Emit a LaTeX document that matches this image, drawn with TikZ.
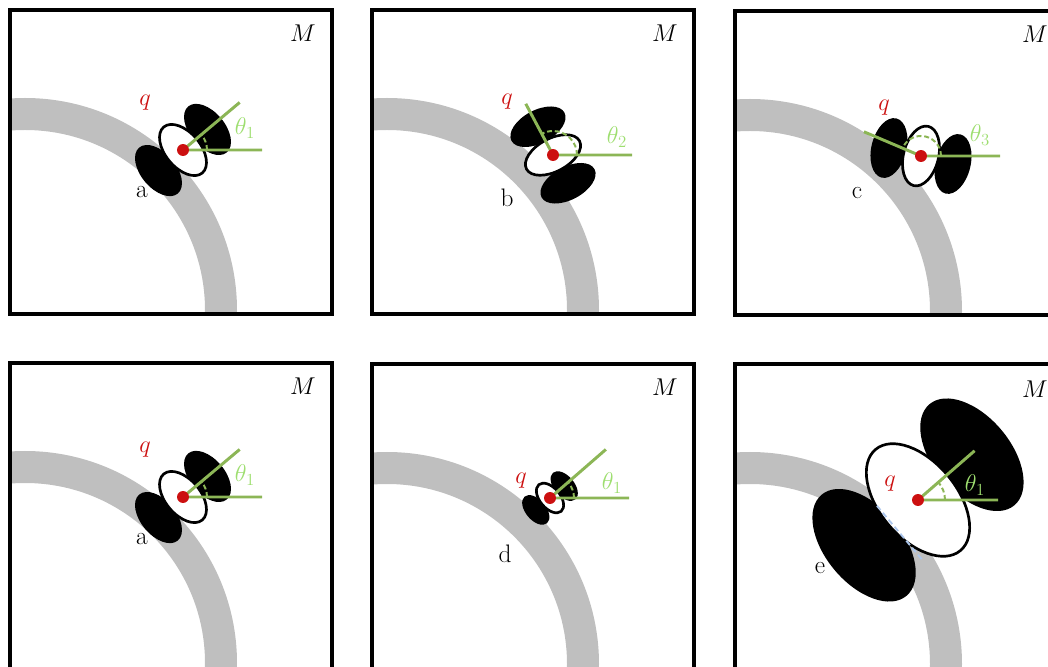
\documentclass[tikz,border=0pt]{standalone}
\usepackage{xcolor}
\usepackage{tikz}
\usetikzlibrary{calc}
\definecolor{bandgray}{RGB}{191,191,191}
\definecolor{qred}{RGB}{204,16,16}
\definecolor{armgreen}{RGB}{140,182,86}
\definecolor{lblgreen}{RGB}{158,222,112}
\definecolor{chordblue}{RGB}{172,198,236}
\tikzset{
  panelframe/.style={draw=black, line width=2.3pt},
  band/.style={fill=bandgray, even odd rule},
  lobe/.style={fill=black},
  core/.style={draw=black, fill=white, line width=1.9pt},
  arm/.style={draw=armgreen, line width=2.1pt},
  anglearc/.style={draw=armgreen, line width=1.4pt, dash pattern=on 3.5pt off 2pt},
  chord/.style={draw=chordblue, line width=1.3pt, dash pattern=on 4pt off 2.5pt},
  pointq/.style={circle, fill=qred, inner sep=0pt, minimum size=8.5pt},
  qlabel/.style={text=qred, font=\fontsize{18}{21}\selectfont},
  thlabel/.style={text=lblgreen, font=\fontsize{18}{21}\selectfont},
  tag/.style={font=\fontsize{18}{21}\selectfont},
  mlabel/.style={font=\fontsize{18}{21}\selectfont}
}

\begin{document}
\begin{tikzpicture}[x=0.025cm, y=0.025cm]
  \useasboundingbox (0,0) rectangle (1048,666);

  % Panel a (top left)
  \begin{scope}[shift={(10,656)}]
    \begin{scope}
      \clip (0,0) rectangle (322,-304);
      \fill[band] (15,-300) circle (212) (15,-300) circle (180);
    \end{scope}
    \coordinate (qa) at (173,-140);
    \begin{scope}[shift={(qa)}, rotate=40]
      \fill[lobe] (32,0) ellipse (17.5 and 30);
      \fill[lobe] (-32,0) ellipse (17.5 and 30);
      \draw[core] (0,0) ellipse (17.5 and 30);
    \end{scope}
    \path (qa) ++(40:74) coordinate (ta);
    \path (qa) ++(0:79) coordinate (ha);
    \draw[anglearc] (qa) ++(24,0) arc[start angle=0, end angle=40, radius=24];
    \draw[arm] (ha) -- (qa) -- (ta);
    \node[pointq] (dota) at (qa) {};
    \node[qlabel] (lqa) at ($(qa)+(-38,47)$) {$q$};
    \node[tag] (laba) at ($(qa)+(-41,-42)$) {a};
    \node[thlabel] (lta) at ($(qa)+(62,22)$) {$\theta_1$};
    \draw[panelframe] (0,0) rectangle (322,-304);
    \node[mlabel] (ma) at (293,-23) {$M$};
  \end{scope}

  % Panel b (top middle)
  \begin{scope}[shift={(372,656)}]
    \begin{scope}
      \clip (0,0) rectangle (322,-304);
      \fill[band] (15,-300) circle (212) (15,-300) circle (180);
    \end{scope}
    \coordinate (qb) at (181,-145);
    \begin{scope}[shift={(qb)}, rotate=118]
      \fill[lobe] (32,0) ellipse (16.5 and 30);
      \fill[lobe] (-32,0) ellipse (16.5 and 30);
      \draw[core] (0,0) ellipse (16.5 and 30);
    \end{scope}
    \path (qb) ++(118:58) coordinate (tb);
    \path (qb) ++(0:79) coordinate (hb);
    \draw[anglearc] (qb) ++(24,0) arc[start angle=0, end angle=118, radius=24];
    \draw[arm] (hb) -- (qb) -- (tb);
    \node[pointq] (dotb) at (qb) {};
    \node[qlabel] (lqb) at ($(qb)+(-46,53)$) {$q$};
    \node[tag] (labb) at ($(qb)+(-46,-43)$) {b};
    \node[thlabel] (ltb) at ($(qb)+(64,18)$) {$\theta_2$};
    \draw[panelframe] (0,0) rectangle (322,-304);
    \node[mlabel] (mb) at (293,-23) {$M$};
  \end{scope}

  % Panel c (top right)
  \begin{scope}[shift={(735,655)}]
    \begin{scope}
      \clip (0,0) rectangle (322,-304);
      \fill[band] (15,-300) circle (212) (15,-300) circle (180);
    \end{scope}
    \coordinate (qc) at (186,-145);
    \begin{scope}[shift={(qc)}, rotate=166]
      \fill[lobe] (33,0) ellipse (17.5 and 30.5);
      \fill[lobe] (-33,0) ellipse (17.5 and 30.5);
      \draw[core] (0,0) ellipse (17.5 and 30.5);
    \end{scope}
    \path (qc) ++(157:62) coordinate (tc);
    \path (qc) ++(0:79) coordinate (hc);
    \draw[anglearc] (qc) ++(20,0) arc[start angle=0, end angle=157, radius=20];
    \draw[arm] (hc) -- (qc) -- (tc);
    \node[pointq] (dotc) at (qc) {};
    \node[qlabel] (lqc) at ($(qc)+(-37,48)$) {$q$};
    \node[tag] (labc) at ($(qc)+(-64,-37)$) {c};
    \node[thlabel] (ltc) at ($(qc)+(59,21)$) {$\theta_3$};
    \draw[panelframe] (0,0) rectangle (322,-304);
    \node[mlabel] (mc) at (300,-23) {$M$};
  \end{scope}

  % Panel a again (bottom left)
  \begin{scope}[shift={(10,303)}]
    \begin{scope}
      \clip (0,0) rectangle (322,-312);
      \fill[band] (15,-300) circle (212) (15,-300) circle (180);
    \end{scope}
    \coordinate (qa2) at (173,-134);
    \begin{scope}[shift={(qa2)}, rotate=40]
      \fill[lobe] (32,0) ellipse (17.5 and 30);
      \fill[lobe] (-32,0) ellipse (17.5 and 30);
      \draw[core] (0,0) ellipse (17.5 and 30);
    \end{scope}
    \path (qa2) ++(40:74) coordinate (ta2);
    \path (qa2) ++(0:79) coordinate (ha2);
    \draw[anglearc] (qa2) ++(24,0) arc[start angle=0, end angle=40, radius=24];
    \draw[arm] (ha2) -- (qa2) -- (ta2);
    \node[pointq] (dota2) at (qa2) {};
    \node[qlabel] (lqa2) at ($(qa2)+(-38,47)$) {$q$};
    \node[tag] (laba2) at ($(qa2)+(-41,-42)$) {a};
    \node[thlabel] (lta2) at ($(qa2)+(62,22)$) {$\theta_1$};
    \draw[panelframe] (0,0) rectangle (322,-312);
    \node[mlabel] (ma2) at (293,-23) {$M$};
  \end{scope}

  % Panel d (bottom middle, small)
  \begin{scope}[shift={(372,302)}]
    \begin{scope}
      \clip (0,0) rectangle (322,-312);
      \fill[band] (15,-300) circle (212) (15,-300) circle (180);
    \end{scope}
    \coordinate (qd) at (178,-134);
    \begin{scope}[shift={(qd)}, rotate=40, scale=0.58]
      \fill[lobe] (32,0) ellipse (17.5 and 30);
      \fill[lobe] (-32,0) ellipse (17.5 and 30);
      \draw[core] (0,0) ellipse (17.5 and 30);
    \end{scope}
    \path (qd) ++(41:74) coordinate (td);
    \path (qd) ++(0:79) coordinate (hd);
    \draw[anglearc] (qd) ++(24,0) arc[start angle=0, end angle=41, radius=24];
    \draw[arm] (hd) -- (qd) -- (td);
    \node[pointq] (dotd) at (qd) {};
    \node[qlabel] (lqd) at ($(qd)+(-29,17)$) {$q$};
    \node[tag] (labd) at ($(qd)+(-45,-56)$) {d};
    \node[thlabel] (ltd) at ($(qd)+(62,15)$) {$\theta_1$};
    \draw[panelframe] (0,0) rectangle (322,-312);
    \node[mlabel] (md) at (293,-23) {$M$};
  \end{scope}

  % Panel e (bottom right, large)
  \begin{scope}[shift={(735,302)}]
    \begin{scope}
      \clip (0,0) rectangle (322,-312);
      \fill[band] (15,-300) circle (212) (15,-300) circle (180);
    \end{scope}
    \coordinate (qe) at (183,-136);
    \begin{scope}[shift={(qe)}, rotate=40, scale=2.2]
      \fill[lobe] (32,0) ellipse (17.5 and 30);
      \fill[lobe] (-32,0) ellipse (17.5 and 30);
      \draw[core] (0,0) ellipse (17.5 and 30);
      \draw[chord] (-16,10) -- (-16,-22);
    \end{scope}
    \path (qe) ++(41:75) coordinate (te);
    \path (qe) ++(0:80) coordinate (he);
    \draw[anglearc] (qe) ++(27,0) arc[start angle=0, end angle=41, radius=27];
    \draw[arm] (he) -- (qe) -- (te);
    \node[pointq] (dote) at (qe) {};
    \node[qlabel] (lqe) at ($(qe)+(-28,16)$) {$q$};
    \node[tag] (labe) at ($(qe)+(-98,-68)$) {e};
    \node[thlabel] (lte) at ($(qe)+(57,15)$) {$\theta_1$};
    \draw[panelframe] (0,0) rectangle (322,-312);
    \node[mlabel] (me) at (300,-25) {$M$};
  \end{scope}
\end{tikzpicture}
\end{document}
